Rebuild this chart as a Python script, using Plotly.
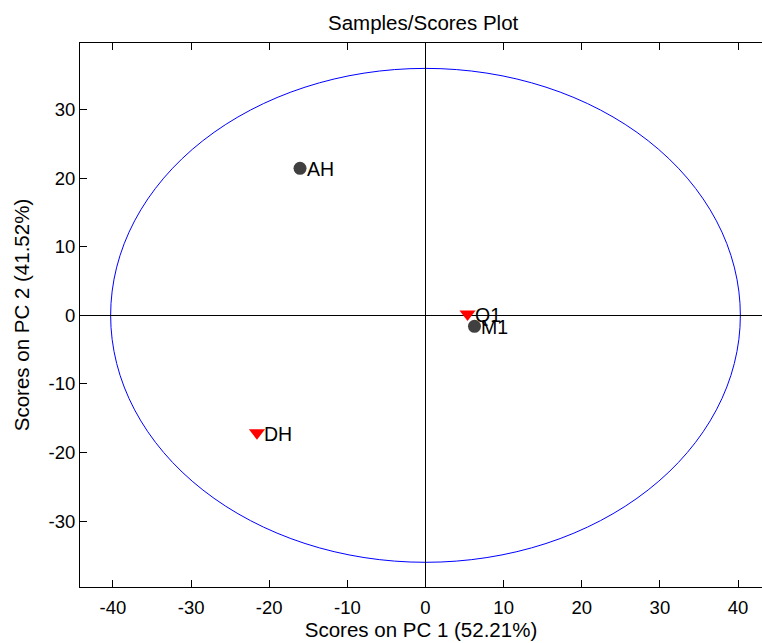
import plotly.graph_objects as go

# Data
labels = ["AH", "M1", "DH", "Q1"]
pc1 = [-16.06, 6.27, -21.57, 5.38]
pc2 = [21.43, -1.6, -17.13, 0.2]
classes = [1, 1, 2, 2]

ellipse_rx = 40.3
ellipse_ry = 36.0

x_ticks = [-40, -30, -20, -10, 0, 10, 20, 30, 40]
y_ticks = [-30, -20, -10, 0, 10, 20, 30]

FONT = "Arial, Liberation Sans, Helvetica, sans-serif"

fig = go.Figure()

styles = {
    1: dict(symbol="circle", color="#404040", size=13),
    2: dict(symbol="triangle-down", color="#ff0000", size=14),
}

for c in [1, 2]:
    idx = [i for i, k in enumerate(classes) if k == c]
    fig.add_trace(go.Scatter(
        x=[pc1[i] for i in idx],
        y=[pc2[i] for i in idx],
        mode="markers",
        marker=dict(symbol=styles[c]["symbol"], color=styles[c]["color"],
                    size=styles[c]["size"], line=dict(width=0)),
        showlegend=False,
        cliponaxis=False,
    ))

annotations = [dict(text=lab, x=xv, y=yv, xref="x", yref="y", showarrow=False,
                    xanchor="left", yanchor="middle", xshift=5, yshift=-1,
                    font=dict(family=FONT, size=19.5, color="black"))
               for lab, xv, yv in zip(labels, pc1, pc2)]

annotations.append(dict(text="Samples/Scores Plot", xref="paper", yref="paper",
                        x=(423 - 80) / 682, y=1, yshift=21, showarrow=False,
                        xanchor="center", yanchor="middle",
                        font=dict(family=FONT, size=20.5, color="black")))

fig.add_shape(type="circle", xref="x", yref="y",
              x0=-ellipse_rx, x1=ellipse_rx, y0=-ellipse_ry, y1=ellipse_ry,
              line=dict(color="#0000ff", width=1), layer="below")

fig.update_layout(
    width=762, height=643,
    margin=dict(l=80, r=0, t=43, b=56),
    paper_bgcolor="white", plot_bgcolor="white",
    font=dict(family=FONT, size=18.5, color="black"),
    annotations=annotations,
)

fig.update_xaxes(
    range=[-44.22, 43.07], tickvals=x_ticks, ticktext=[str(v) for v in x_ticks],
    showgrid=False, zeroline=True, zerolinecolor="black", zerolinewidth=1,
    showline=True, linecolor="black", linewidth=1, mirror="ticks",
    ticks="inside", ticklen=7, tickcolor="black", tickwidth=1,
    ticklabelstandoff=4,
    tickfont=dict(family=FONT, size=18.5, color="black"),
    title=dict(text="Scores on PC 1 (52.21%)", standoff=4,
               font=dict(family=FONT, size=20.5, color="black")),
)
fig.update_yaxes(
    range=[-39.6, 39.7], tickvals=y_ticks, ticktext=[str(v) for v in y_ticks],
    showgrid=False, zeroline=True, zerolinecolor="black", zerolinewidth=1,
    showline=True, linecolor="black", linewidth=1, mirror=False,
    ticks="inside", ticklen=7, tickcolor="black", tickwidth=1,
    tickfont=dict(family=FONT, size=18.5, color="black"),
    title=dict(text="Scores on PC 2 (41.52%)", standoff=13,
               font=dict(family=FONT, size=20.5, color="black")),
)

fig.write_html("out.html")
